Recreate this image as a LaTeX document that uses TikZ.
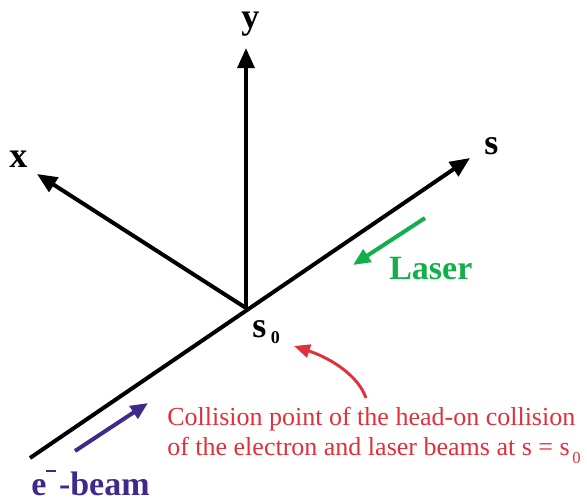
\documentclass[tikz,border=0pt]{standalone}
\usepackage{fontspec}
\setmainfont{Liberation Serif}
\usetikzlibrary{arrows.meta}
\definecolor{Beam}{HTML}{3F2A8C}
\definecolor{LaserGreen}{HTML}{12B04A}
\definecolor{NoteRed}{HTML}{E0303A}

\begin{document}
\begin{tikzpicture}[x=0.75pt,y=-0.75pt,
  axis/.style={line width=3pt,-{Triangle[length=15pt,width=12.5pt]}},
  beamarrow/.style={line width=3pt,-{Triangle[length=13pt,width=11pt]}},
  axlabel/.style={font=\fontsize{27}{30}\selectfont\bfseries,inner sep=0pt,anchor=base west},
  beamlabel/.style={font=\fontsize{25.5}{28}\selectfont\bfseries,inner sep=0pt,anchor=base west}]
\useasboundingbox (0,0) rectangle (587,504);
\coordinate (o) at (246,308);
\coordinate (sstart) at (30,458);
\coordinate (ytip) at (246,48);
\coordinate (xtip) at (37,174);
\coordinate (stip) at (470,158);
% axes
\draw[axis] (o)--(ytip);
\draw[axis] (o)--(xtip);
\draw[axis] (sstart)--(stip);
\node[axlabel] (ylab) at (241,28) {y};
\node[axlabel] (xlab) at (9,167) {x};
\node[axlabel] (slab) at (484,154) {s};
\node[axlabel] (s0lab) at (252,337) {s\hspace{3.5pt}\raisebox{-5pt}{\fontsize{13.5}{15}\selectfont 0}};
% beams
\coordinate (lasertail) at (425,218);\coordinate (laserhead) at (353,265);
\draw[beamarrow,LaserGreen] (lasertail)--(laserhead);
\node[beamlabel,text=LaserGreen] (laserlab) at (389,279) {Laser};
\coordinate (etail) at (75,451);\coordinate (ehead) at (148,403);
\draw[beamarrow,Beam] (etail)--(ehead);
\node[beamlabel,text=Beam] (elab) at (31,495) {e\rule[17pt]{7.5pt}{2pt}\hspace{2pt}-beam};
% collision point note
\node[anchor=north west,align=left,inner sep=0pt,text=NoteRed,font=\fontsize{19.5}{22.5}\selectfont] (note) at (167,407)
  {Collision point of the head-on collision\\of the electron and laser beams at s = s\raisebox{-6pt}{\fontsize{12.5}{14}\selectfont\,0}};
\coordinate (notefrom) at (366,398);\coordinate (noteto) at (294,346);
\draw[NoteRed,line width=2.2pt,-{Triangle[length=12pt,width=10pt]}] (notefrom) .. controls (358,375) and (330,358) .. (noteto);
\end{tikzpicture}
\end{document}
